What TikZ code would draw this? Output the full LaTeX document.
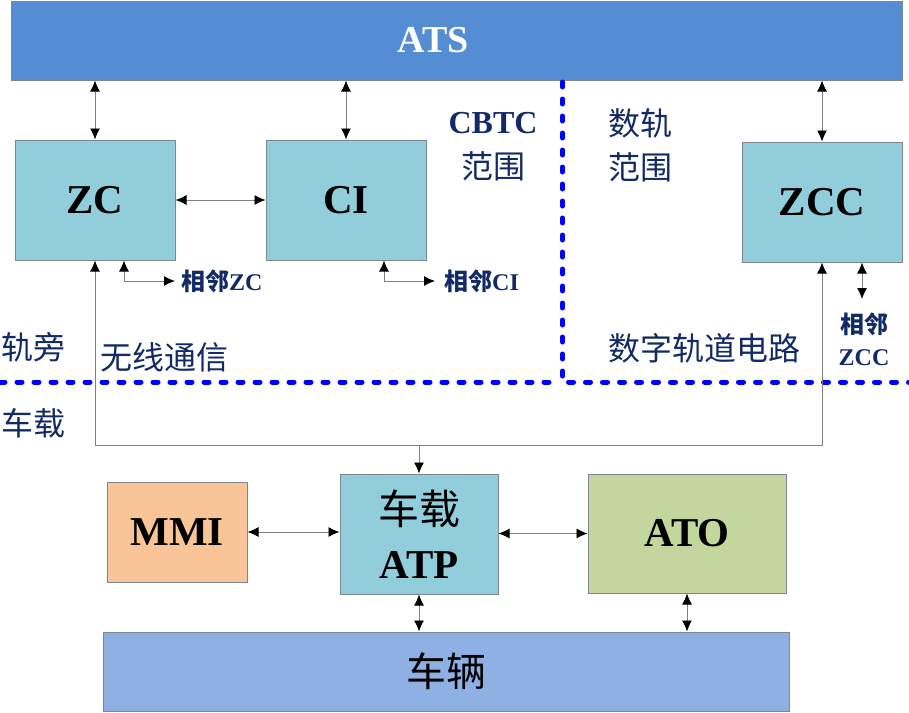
\documentclass[tikz,border=0pt]{standalone}
\usepackage{fontspec}
\setmainfont{Liberation Serif}
\newfontfamily\cjk{Noto Sans CJK SC}
\usetikzlibrary{arrows.meta}
\definecolor{atsblue}{RGB}{85,141,213}
\definecolor{tealfill}{RGB}{146,205,220}
\definecolor{mmifill}{RGB}{249,196,152}
\definecolor{atofill}{RGB}{195,214,158}
\definecolor{carfill}{RGB}{142,176,227}
\definecolor{boxgray}{RGB}{125,135,145}
\definecolor{linegray}{RGB}{128,128,128}
\definecolor{navy}{RGB}{18,42,102}
\definecolor{dashblue}{RGB}{0,0,255}
\tikzset{
  box/.style={draw=boxgray, line width=1pt, inner sep=0pt},
  bigtxt/.style={font=\fontsize{41}{54}\selectfont\bfseries, align=center},
  conn/.style={draw=linegray, line width=0.9pt},
  navylbl/.style={text=navy, inner sep=0pt, font=\fontsize{32}{40}\selectfont},
  smalllbl/.style={text=navy, inner sep=0pt, font=\fontsize{24}{32}\selectfont\bfseries, align=center},
  boundary/.style={draw=dashblue, line width=5pt, line cap=round, dash pattern=on 5pt off 12pt},
}
\begin{document}
\begin{tikzpicture}[x=1pt,y=-1pt,>={Latex[length=11pt,width=10pt,color=black]}]
\path[use as bounding box] (0,0) rectangle (909,712);
% boxes
\node[box, fill=atsblue, minimum width=891pt, minimum height=79pt] (ATS) at (456.5,40.5) {};
\node[text=white, font=\fontsize{38}{44}\selectfont\bfseries] (atsLabel) at (433,40) {ATS};
\node[box, fill=tealfill, minimum width=160pt, minimum height=120pt, bigtxt] (ZC) at (95,200) {ZC};
\node[box, fill=tealfill, minimum width=160pt, minimum height=120pt, bigtxt] (CI) at (346,200) {CI};
\node[box, fill=tealfill, minimum width=160pt, minimum height=120pt, bigtxt] (ZCC) at (822,202) {ZCC};
\node[box, fill=tealfill, minimum width=158pt, minimum height=120pt, bigtxt] (ATP) at (419,534) {{\cjk\mdseries 车载}\\ATP};
\node[box, fill=mmifill, minimum width=140pt, minimum height=100pt, bigtxt] (MMI) at (177,532) {MMI};
\node[box, fill=atofill, minimum width=198pt, minimum height=119pt, bigtxt] (ATO) at (687,533.5) {ATO};
\node[box, fill=carfill, minimum width=686pt, minimum height=79pt, font=\fontsize{40}{48}\selectfont\cjk] (CAR) at (446,671.5) {车辆};
% boundary lines
\coordinate (bTop) at (562.5,82);
\coordinate (bCorner) at (562.5,382);
\coordinate (bRight) at (912,382);
\coordinate (bLeft) at (0,382);
\coordinate (bMid) at (552,382);
\path[boundary] (bTop) -- (bCorner) -- (bRight);
\path[boundary] (bLeft) -- (bMid);
% connectors to ATS
\draw[conn,<->] (ZC.north) -- (ZC.north |- ATS.south);
\draw[conn,<->] (CI.north) -- (CI.north |- ATS.south);
\draw[conn,<->] (ZCC.north) -- (ZCC.north |- ATS.south);
\draw[conn,<->] (ZC.east) -- (CI.west);
% neighbour connectors
\coordinate (zcA) at (124,281);
\coordinate (zcB) at (175,281);
\coordinate (ciA) at (384,281);
\coordinate (ciB) at (435,281);
\coordinate (zccA) at (862,299);
\draw[conn,<->] (ZC.south -| zcA) -- (zcA) -- (zcB);
\draw[conn,<->] (CI.south -| ciA) -- (ciA) -- (ciB);
\draw[conn,<->] (ZCC.south -| zccA) -- (zccA);
\node[smalllbl, anchor=west] (adjZC) at (181,281) {{\cjk 相邻}ZC};
\node[smalllbl, anchor=west] (adjCI) at (444,281) {{\cjk 相邻}CI};
\node[smalllbl] (adjZCC) at (864,339) {{\cjk 相邻}\\ZCC};
% wireless loop
\coordinate (w1) at (95,445);
\coordinate (w2) at (822,445);
\coordinate (wA) at (419,445);
\draw[conn,<->] (ZC.south) -- (w1) -- (w2) -- (ZCC.south);
\draw[conn,->] (wA) -- (ATP.north);
% on-board connectors
\draw[conn,<->] (MMI.east) -- (MMI.east -| ATP.west);
\draw[conn,<->] (ATP.east |- ATO.west) -- (ATO.west);
\draw[conn,<->] (ATP.south) -- (ATP.south |- CAR.north);
\draw[conn,<->] (ATO.south) -- (ATO.south |- CAR.north);
% region labels
\node[navylbl, font=\fontsize{32}{40}\selectfont\bfseries] (cbtc) at (493,123) {CBTC};
\node[navylbl] (cbtcR) at (493,166) {\cjk 范围};
\node[navylbl] (sg) at (640,123) {\cjk 数轨};
\node[navylbl] (sgR) at (640,167) {\cjk 范围};
\node[navylbl, anchor=west] (wayside) at (1,347) {\cjk 轨旁};
\node[navylbl, anchor=west] (radio) at (100,357) {\cjk 无线通信};
\node[navylbl] (dtc) at (704,348) {\cjk 数字轨道电路};
\node[navylbl, anchor=west] (onboard) at (1,423) {\cjk 车载};
\end{tikzpicture}
\end{document}
